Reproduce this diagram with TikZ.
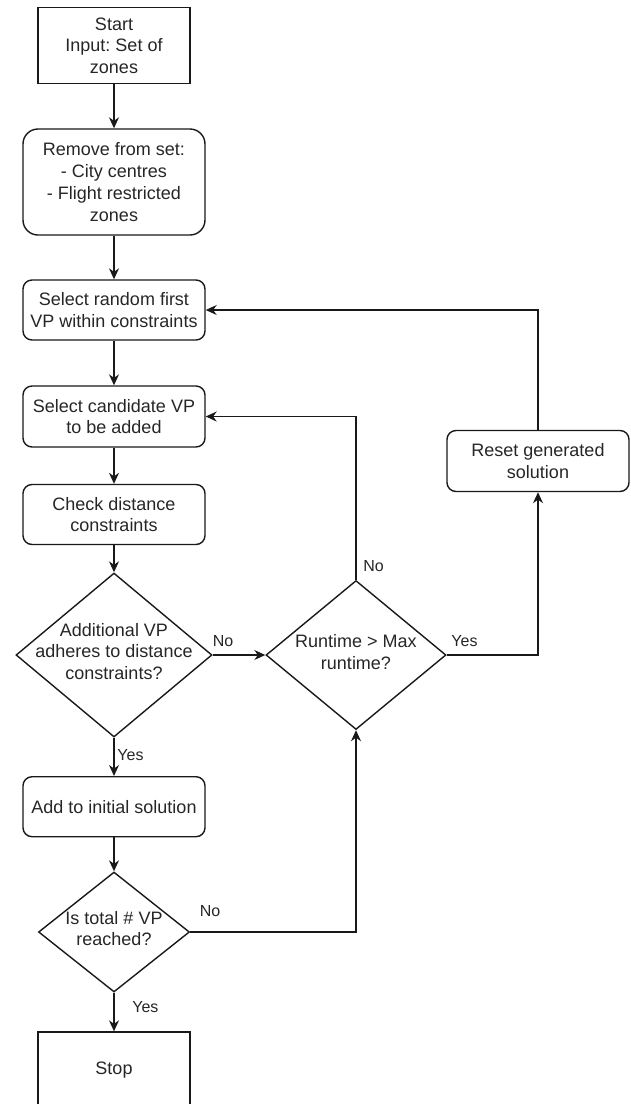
\documentclass[tikz,border=0pt]{standalone}
\usepackage{fontspec}
\setmainfont{Liberation Sans}
\usepackage{tikz}
\usetikzlibrary{arrows.meta, positioning, shapes.geometric}
\frenchspacing
\newcommand{\boxfont}{\fontsize{18}{21.8}\selectfont}
\newcommand{\lblfont}{\fontsize{16}{19}\selectfont}
\tikzset{
    block/.style={draw, rounded corners=9pt, minimum width=182pt, minimum height=60pt, align=center, inner sep=0pt, font=\boxfont, text=black!85},
    terminal/.style={draw, minimum width=152pt, minimum height=76pt, align=center, inner sep=0pt, font=\boxfont, text=black!85},
    decision/.style={draw, diamond, inner sep=0pt},
    dtext/.style={align=center, inner sep=0pt, font=\boxfont, text=black!85},
    lbl/.style={font=\lblfont, inner sep=0pt, text=black!85},
    flow/.style={-{Stealth[length=11pt, width=10pt]}},
}

\begin{document}
\begin{tikzpicture}[x=1pt, y=-1pt, line width=1.4pt, draw=black!90]
    \useasboundingbox (0,0) rectangle (630,1104);
    \clip (0,0) rectangle (630,1104);

    \node[terminal] (start) at (114, 45.7) {Start\\Input: Set of\\zones};
    \node[block, rounded corners=15pt, minimum height=106pt] (remove) at (114, 182) {Remove from set:\\- City centres\\- Flight restricted\\zones};
    \node[block] (rand) at (114, 310) {Select random first\\VP within constraints};
    \node[block, minimum height=61pt] (cand) at (114, 416.5) {Select candidate VP\\to be added};
    \node[block] (check) at (114, 514.5) {Check distance\\constraints};

    \node[decision, minimum width=196pt, minimum height=164pt] (d1) at (114, 655) {};
    \node[dtext] (d1txt) at (114, 651.5) {Additional VP\\adheres to distance\\constraints?};

    \node[decision, minimum width=180pt, minimum height=149pt] (d2) at (356, 655) {};
    \node[dtext] (d2txt) at (356, 652) {Runtime > Max\\runtime?};

    \node[block, minimum height=61pt] (reset) at (538, 461) {Reset generated\\solution};
    \node[block] (add) at (114, 806.7) {Add to initial solution};

    \node[decision, minimum width=151pt, minimum height=120pt] (d3) at (114, 932) {};
    \node[dtext] (d3txt) at (114, 928.5) {Is total \# VP\\reached?};

    \node[terminal] (stop) at (114, 1070) {Stop};

    \node[lbl] (noA) at (223, 641) {No};
    \node[lbl] (noB) at (373.6, 566) {No};
    \node[lbl] (yesA) at (464.5, 641) {Yes};
    \node[lbl] (yesB) at (130.5, 755) {Yes};
    \node[lbl] (noC) at (210, 910.6) {No};
    \node[lbl] (yesC) at (145.4, 1007.5) {Yes};

    \draw[flow] (start) -- (remove);
    \draw[flow] (remove) -- (rand);
    \draw[flow] (rand) -- (cand);
    \draw[flow] (cand) -- (check);
    \draw[flow] (check) -- (d1);
    \draw[flow] (d1) -- (d2);
    \draw[flow] (d1) -- (add);
    \draw[flow] (add) -- (d3);
    \draw[flow] (d3) -- (stop);
    \draw[flow] (d2.north) |- (cand.east);
    \draw[flow] (d2.east) -| (reset.south);
    \draw[flow] (reset.north) |- (rand.east);
    \draw[flow] (d3.east) -| (d2.south);
\end{tikzpicture}
\end{document}
